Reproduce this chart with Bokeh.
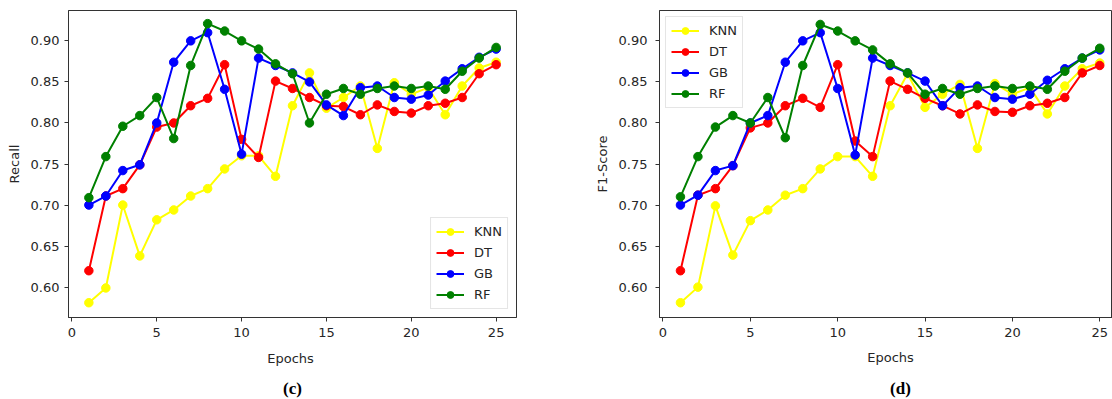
from bokeh.plotting import figure
from bokeh.models import Legend, LegendItem, Label, Range1d, FixedTicker
from bokeh.layouts import row, column
from bokeh.embed import file_html
from bokeh.resources import INLINE

epochs = list(range(1, 26))

recall_knn = [0.581, 0.599, 0.700, 0.638, 0.682, 0.694, 0.711, 0.720, 0.744, 0.760, 0.760, 0.735, 0.821,
              0.861, 0.818, 0.831, 0.845, 0.769, 0.849, 0.835, 0.843, 0.810, 0.845, 0.867, 0.874]
recall_dt = [0.620, 0.711, 0.720, 0.749, 0.795, 0.800, 0.821, 0.830, 0.871, 0.780, 0.758, 0.851, 0.842,
             0.831, 0.821, 0.820, 0.810, 0.822, 0.814, 0.812, 0.821, 0.824, 0.831, 0.860, 0.871]
recall_gb = [0.700, 0.711, 0.742, 0.749, 0.800, 0.874, 0.900, 0.910, 0.841, 0.762, 0.879, 0.870, 0.861,
             0.850, 0.822, 0.809, 0.843, 0.845, 0.831, 0.829, 0.834, 0.851, 0.866, 0.880, 0.890]
recall_rf = [0.709, 0.759, 0.796, 0.809, 0.831, 0.781, 0.870, 0.921, 0.912, 0.900, 0.890, 0.872, 0.860,
             0.800, 0.835, 0.842, 0.835, 0.842, 0.845, 0.842, 0.845, 0.841, 0.863, 0.879, 0.892]

f1_knn = [0.581, 0.600, 0.699, 0.639, 0.681, 0.694, 0.712, 0.720, 0.744, 0.759, 0.759, 0.735, 0.821,
          0.860, 0.819, 0.835, 0.847, 0.769, 0.848, 0.835, 0.843, 0.811, 0.845, 0.866, 0.873]
f1_dt = [0.620, 0.712, 0.720, 0.748, 0.794, 0.800, 0.821, 0.830, 0.819, 0.871, 0.778, 0.759, 0.851,
         0.841, 0.830, 0.821, 0.811, 0.822, 0.814, 0.813, 0.821, 0.824, 0.831, 0.861, 0.870]
f1_gb = [0.700, 0.712, 0.742, 0.748, 0.800, 0.809, 0.874, 0.900, 0.910, 0.842, 0.761, 0.879, 0.870,
         0.861, 0.851, 0.821, 0.843, 0.845, 0.831, 0.829, 0.835, 0.852, 0.866, 0.879, 0.889]
f1_rf = [0.710, 0.759, 0.795, 0.809, 0.800, 0.831, 0.782, 0.870, 0.920, 0.912, 0.900, 0.889, 0.872,
         0.861, 0.835, 0.842, 0.835, 0.842, 0.845, 0.842, 0.845, 0.841, 0.863, 0.879, 0.891]

series_names = ["KNN", "DT", "GB", "RF"]
series_colors = ["yellow", "red", "blue", "green"]
x_ticks = [0, 5, 10, 15, 20, 25]
y_ticks = [0.60, 0.65, 0.70, 0.75, 0.80, 0.85, 0.90]

TXT = "#262626"
FONT = "DejaVu Sans"
PLOT_H = 348
STRIP_H = 399 - PLOT_H


def make_panel(width, x_end, borders, ylabel, values, legend_loc, legend_margin,
               label_standoff, ylab_standoff):
    ml, mr, mt, mb = borders
    p = figure(width=width, height=PLOT_H, output_backend="svg", toolbar_location=None,
               x_range=Range1d(-0.2, x_end), y_range=Range1d(0.563, 0.937),
               min_border_left=ml, min_border_right=mr, min_border_top=mt, min_border_bottom=mb,
               background_fill_color="white", border_fill_color="white")
    p.xgrid.visible = False
    p.ygrid.visible = False
    p.outline_line_color = "#333333"
    p.outline_line_width = 1
    for ax in (p.xaxis[0], p.yaxis[0]):
        ax.axis_line_color = "#333333"
        ax.major_tick_line_color = "#333333"
        ax.major_tick_in = 0
        ax.major_tick_out = 4
        ax.minor_tick_line_color = None
        ax.major_label_text_font = FONT
        ax.major_label_text_font_size = "13px"
        ax.major_label_text_color = TXT
        ax.axis_label_text_font = FONT
        ax.axis_label_text_font_size = "13px"
        ax.axis_label_text_font_style = "normal"
        ax.axis_label_text_color = TXT
    p.xaxis.ticker = FixedTicker(ticks=x_ticks)
    p.yaxis.ticker = FixedTicker(ticks=y_ticks)
    p.yaxis.major_label_overrides = {v: f"{v:.2f}" for v in y_ticks}
    p.xaxis.major_label_standoff = 6
    p.yaxis.major_label_standoff = label_standoff
    p.yaxis.axis_label = ylabel
    p.yaxis.axis_label_standoff = ylab_standoff

    items = []
    for name, color, vals in zip(series_names, series_colors, values):
        ln = p.line(epochs, vals, line_color=color, line_width=2)
        sc = p.scatter(epochs, vals, size=8.5, fill_color=color, line_color=color)
        items.append(LegendItem(label=name, renderers=[ln, sc]))
    leg = Legend(items=items, location=legend_loc, margin=legend_margin,
                 label_text_font=FONT, label_text_font_size="13px", label_text_color=TXT,
                 glyph_width=28, glyph_height=17, label_height=17, label_standoff=10,
                 spacing=4, padding=5, border_line_color="#cccccc", border_line_width=1,
                 background_fill_color="white", background_fill_alpha=0.8)
    p.add_layout(leg)
    return p


def make_strip(width, epochs_xy, caption, caption_xy):
    s = figure(width=width, height=STRIP_H, output_backend="svg", toolbar_location=None,
               x_range=Range1d(0, 1), y_range=Range1d(0, 1),
               x_axis_location=None, y_axis_location=None,
               min_border_left=0, min_border_right=0, min_border_top=0, min_border_bottom=0,
               background_fill_color="white", border_fill_color="white")
    s.outline_line_color = None
    s.xgrid.visible = False
    s.ygrid.visible = False
    s.add_layout(Label(x=epochs_xy[0], y=epochs_xy[1], x_units="screen", y_units="screen",
                       text="Epochs", text_font=FONT, text_font_size="13px", text_color=TXT,
                       text_align="center", text_baseline="middle"))
    s.add_layout(Label(x=caption_xy[0], y=caption_xy[1], x_units="screen", y_units="screen",
                       text=caption, text_font="Liberation Serif", text_font_size="17px",
                       text_font_style="bold", text_color="black",
                       text_align="center", text_baseline="middle"))
    return s


# left frame: x 68..516, y 10..322 ; right frame: x 659..1112, y 2..317
p1 = make_panel(590, 26.2, (68, 74, 10, PLOT_H - 322), "Recall",
                [recall_knn, recall_dt, recall_gb, recall_rf], "bottom_right", 8, 5, 6)
p2 = make_panel(522, 25.73, (69, 0, 2, PLOT_H - 317), "F1-Score",
                [f1_knn, f1_dt, f1_gb, f1_rf], "top_left", 6, 8, 6)

s1 = make_strip(590, (290, 399 - 358), "(c)", (292, 399 - 388))
s2 = make_strip(522, (890 - 590, 399 - 357), "(d)", (900 - 590, 399 - 388))

layout = column(row(p1, p2), row(s1, s2))
open("out.html", "w").write(file_html(layout, INLINE))
